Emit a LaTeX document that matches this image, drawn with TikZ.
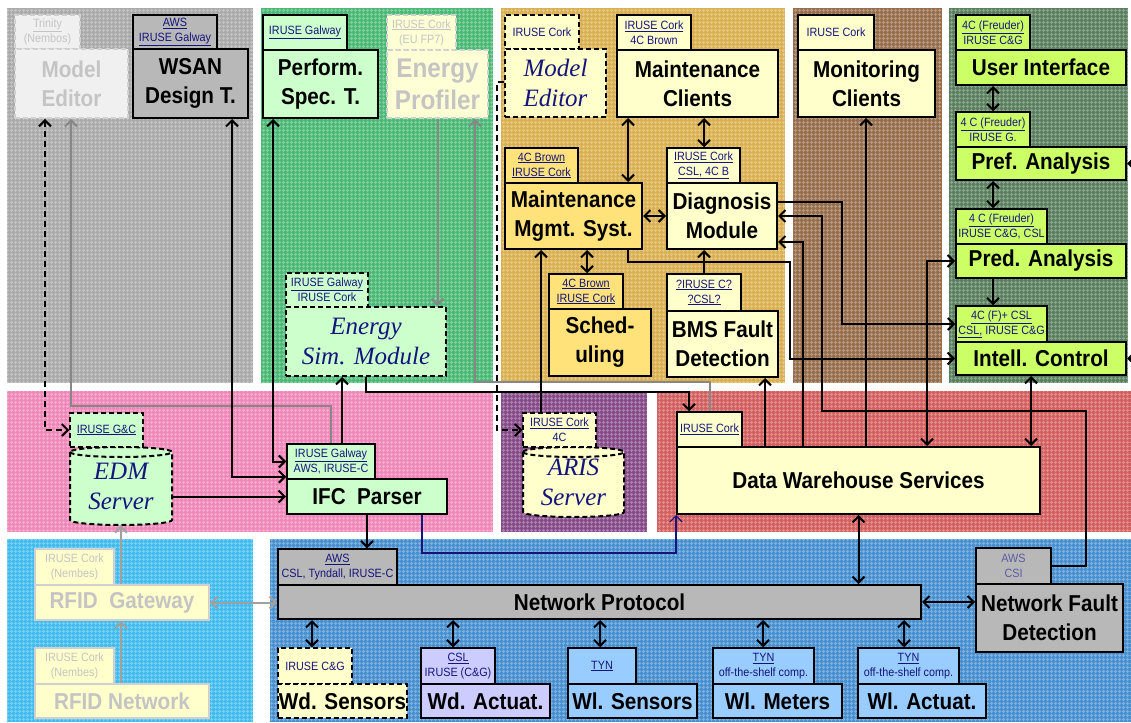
\documentclass[tikz,border=0pt]{standalone}
\usepackage{fontspec}
\setmainfont{Liberation Sans}
\newfontfamily\narrowsans[FakeStretch=0.9]{Liberation Sans}
\newfontfamily\romanit{Liberation Serif}
\usetikzlibrary{arrows.meta,patterns.meta}

\newcommand{\mainfnt}{\narrowsans\bfseries\fontsize{23}{29}\selectfont}
\newcommand{\bigfnt}{\narrowsans\bfseries\fontsize{27}{32}\selectfont}
\newcommand{\tabfnt}{\narrowsans\fontsize{12}{15}\selectfont}
\newcommand{\serfnt}{\romanit\itshape\fontsize{25}{30}\selectfont}

\definecolor{navy}{RGB}{20,20,125}
\definecolor{ltgreen}{RGB}{204,255,204}
\definecolor{ltyellow}{RGB}{255,255,204}
\definecolor{gold}{RGB}{255,226,122}
\definecolor{boxgrey}{RGB}{184,184,184}
\definecolor{ygreen}{RGB}{204,255,102}
\definecolor{lavender}{RGB}{204,204,255}
\definecolor{ltblue}{RGB}{153,204,255}
\definecolor{fadefill}{RGB}{240,240,240}
\definecolor{fadeyellow}{RGB}{255,255,214}
\definecolor{fadeline}{RGB}{208,208,208}
\definecolor{fadetext}{RGB}{196,196,196}
\definecolor{linkgrey}{RGB}{135,135,135}
\definecolor{fadelink}{RGB}{160,160,160}
\definecolor{bgGrey}{RGB}{170,170,170}
\definecolor{bgGreen}{RGB}{75,185,118}
\definecolor{bgGold}{RGB}{218,175,80}
\definecolor{bgBrown}{RGB}{150,110,75}
\definecolor{bgDkGreen}{RGB}{90,128,94}
\definecolor{bgPink}{RGB}{240,135,185}
\definecolor{bgPurple}{RGB}{135,75,138}
\definecolor{bgRed}{RGB}{212,95,95}
\definecolor{bgCyan}{RGB}{65,188,238}
\definecolor{bgBlue}{RGB}{72,144,208}

\tikzset{
  sz/.style 2 args={minimum width=#1pt, minimum height=#2pt},
  box/.style={draw, line width=2pt, inner sep=0pt, align=center, font=\mainfnt},
  tab/.style={draw, line width=1.5pt, inner sep=0pt, align=center, font=\tabfnt, text=navy},
  dashbox/.style={dash pattern=on 5pt off 3pt},
  faded/.style={draw=fadeline, text=fadetext},
  ital/.style={font=\serfnt, text=navy},
  drum/.style={inner sep=0pt, align=center, font=\serfnt, text=navy},
  cyl/.style={line width=2pt, dash pattern=on 5pt off 3pt},
  link/.style={line width=2pt},
  glink/.style={line width=2pt, draw=linkgrey},
  flink/.style={line width=2pt, draw=fadelink},
  dlink/.style={line width=2pt, dash pattern=on 6pt off 4pt},
  nlink/.style={line width=1.2pt, draw=navy},
  weave/.style={pattern={Hatch[angle=0, distance=4pt, line width=1pt]}, pattern color=white, fill opacity=0.3}
}

\begin{document}
\begin{tikzpicture}[x=1pt, y=-1pt, >={Straight Barb[length=6pt,width=12pt]}]
  \useasboundingbox (0,0) rectangle (1131,722);
  \fill[white] (0,0) rectangle (1131,722);

  % coloured areas
  \foreach \xa/\ya/\xb/\yb/\tint in {7/8/253/383/bgGrey, 261/8/493/383/bgGreen,
      501/8/785/383/bgGold, 793/8/942/383/bgBrown, 949/8/1128/383/bgDkGreen,
      7/391/493/532/bgPink, 501/391/647/532/bgPurple, 657/391/1131/532/bgRed,
      7/539/253/722/bgCyan, 270/539/1131/722/bgBlue}
  {
    \fill[\tint] (\xa,\ya) rectangle (\xb,\yb);
    \fill[weave] (\xa,\ya) rectangle (\xb,\yb);
  }

  % design tools
  \node[tab, faded, dashbox, fill=fadefill, sz={65}{34}] (meT) at (47.5,32) {\underline{Trinity}\\(Nembos)};
  \node[box, faded, dashbox, fill=fadefill, sz={113}{69}] (meF) at (71.5,83.5) {Model\\Editor};
  \node[tab, fill=boxgrey, sz={84}{34}] (wsanT) at (175,32) {\underline{AWS}\\\underline{IRUSE Galway}};
  \node[box, fill=boxgrey, sz={115}{69}] (wsan) at (190.5,83.5) {WSAN\\Design T.};
  \node[tab, fill=ltgreen, sz={84}{35}] (perfT) at (305,32.5) {\underline{IRUSE Galway}};
  \node[box, fill=ltgreen, sz={115}{68}] (perf) at (320.5,84) {Perform.\\Spec. T.};
  \node[tab, faded, dashbox, fill=fadeyellow, sz={69}{35}] (epT) at (421.5,32.5) {\underline{IRUSE Cork}\\(EU FP7)};
  \node[box, faded, dashbox, fill=fadeyellow, sz={101}{68}, font=\bigfnt] (ep) at (437.5,84) {Energy\\Profiler};
  \node[tab, dashbox, fill=ltgreen, sz={82}{34}] (esT) at (327,290) {\underline{IRUSE Galway}\\IRUSE Cork};
  \node[box, dashbox, ital, fill=ltgreen, sz={160}{69}] (es) at (366,341.5) {Energy\\Sim. Module};

  % maintenance
  \node[tab, dashbox, fill=ltyellow, sz={74}{34}] (me2T) at (542,32) {IRUSE Cork};
  \node[box, dashbox, ital, fill=ltyellow, sz={101}{68}] (me2) at (555.5,83) {Model\\Editor};
  \node[tab, fill=ltyellow, sz={74}{35}] (mcT) at (654,32.5) {\underline{IRUSE Cork}\\4C Brown};
  \node[box, fill=ltyellow, sz={161}{67}] (mc) at (697.5,83.5) {Maintenance\\Clients};
  \node[tab, fill=gold, sz={73}{35}] (mmsT) at (541.5,165.5) {\underline{4C Brown}\\\underline{IRUSE Cork}};
  \node[box, fill=gold, sz={137}{66}] (mms) at (573.5,216) {Maintenance\\Mgmt. Syst.};
  \node[tab, fill=ltyellow, sz={73}{35}] (dgT) at (703.5,165.5) {\underline{IRUSE Cork}\\\underline{CSL, 4C B}};
  \node[box, fill=ltyellow, sz={110}{66}] (dg) at (722,216) {Diagnosis\\Module};
  \node[tab, fill=gold, sz={74}{35}] (schT) at (586,291.5) {\underline{4C Brown}\\\underline{IRUSE Cork}};
  \node[box, fill=gold, sz={102}{67}] (sch) at (600,342.5) {Sched-\\uling};
  \node[tab, fill=ltyellow, sz={74}{37}] (bmsT) at (704,292.5) {\underline{?IRUSE C?}\\\underline{?CSL?}};
  \node[box, fill=ltyellow, sz={111}{66}] (bms) at (722.5,344) {BMS Fault\\Detection};
  \node[tab, fill=ltyellow, sz={76}{35}] (monT) at (836,32.5) {IRUSE Cork};
  \node[box, fill=ltyellow, sz={137}{67}] (mon) at (866.5,83.5) {Monitoring\\Clients};

  % control chain
  \node[tab, fill=ygreen, sz={74}{35}] (uiT) at (993,32.5) {\underline{4C (Freuder)}\\IRUSE C\&G};
  \node[box, fill=ygreen, sz={170}{35}] (ui) at (1041,67.5) {User Interface};
  \node[tab, fill=ygreen, sz={74}{35}] (prefT) at (993,129.5) {\underline{4 C (Freuder)}\\IRUSE G.};
  \node[box, fill=ygreen, sz={170}{33}] (pref) at (1041,163.5) {Pref. Analysis};
  \node[tab, fill=ygreen, sz={91}{35}] (predT) at (1001.5,226.5) {\underline{4 C (Freuder)}\\IRUSE C\&G, CSL};
  \node[box, fill=ygreen, sz={170}{34}] (pred) at (1041,261) {Pred. Analysis};
  \node[tab, fill=ygreen, sz={91}{36}] (icT) at (1001.5,324) {\underline{4C (F)+ CSL}\\\underline{CSL,} IRUSE C\&G};
  \node[box, fill=ygreen, sz={170}{33}] (ic) at (1041,358.5) {Intell. Control};

  % servers
  \filldraw[cyl, fill=ltgreen] (70,452) -- (70,520) arc[start angle=180, end angle=360, x radius=51pt, y radius=5pt]
    -- (172,452) arc[start angle=0, end angle=180, x radius=51pt, y radius=5pt] -- cycle;
  \draw[cyl] (70,452) arc[start angle=180, end angle=360, x radius=51pt, y radius=5pt];
  \node[drum, sz={102}{78}] (edm) at (121,486) {EDM\\Server};
  \node[tab, dashbox, fill=ltgreen, sz={73}{34}] (edmT) at (106.5,430) {\underline{IRUSE G\&C}};
  \node[tab, fill=ltgreen, sz={88}{35}] (ifcT) at (331,461.5) {\underline{IRUSE Galway}\\AWS, IRUSE-C};
  \node[box, fill=ltgreen, sz={160}{35}] (ifc) at (367,496.5) {IFC~~Parser};
  \filldraw[cyl, fill=ltyellow] (523,452) -- (523,512) arc[start angle=180, end angle=360, x radius=50.5pt, y radius=5pt]
    -- (624,452) arc[start angle=0, end angle=180, x radius=50.5pt, y radius=5pt] -- cycle;
  \draw[cyl] (523,452) arc[start angle=180, end angle=360, x radius=50.5pt, y radius=5pt];
  \node[drum, sz={101}{70}] (aris) at (573.5,482) {ARIS\\Server};
  \node[tab, dashbox, fill=ltyellow, sz={73}{34}] (arisT) at (559.5,430) {\underline{IRUSE Cork}\\4C};
  \node[tab, fill=ltyellow, sz={65}{35}] (dwsT) at (709.5,429.5) {\underline{IRUSE Cork}};
  \node[box, fill=ltyellow, sz={363}{67}] (dws) at (858.5,480.5) {Data Warehouse Services};

  % network
  \node[tab, faded, fill=ltyellow, sz={79}{36}] (rgT) at (74.5,567) {IRUSE Cork\\(Nembes)};
  \node[box, faded, fill=ltyellow, sz={174}{35}] (rg) at (122,602.5) {RFID~~Gateway};
  \node[tab, faded, fill=ltyellow, sz={79}{36}] (rnT) at (74.5,666) {IRUSE Cork\\(Nembes)};
  \node[box, faded, fill=ltyellow, sz={174}{34}] (rn) at (122,701) {RFID Network};
  \node[tab, fill=boxgrey, sz={119}{36}] (npT) at (337.5,567) {\underline{AWS}\\CSL, Tyndall, IRUSE-C};
  \node[box, fill=boxgrey, sz={643}{34}] (np) at (599.5,602) {Network Protocol};
  \node[tab, fill=boxgrey, sz={75}{36}, text=navy!70] (nfdT) at (1013.5,566) {AWS\\CSI};
  \node[box, fill=boxgrey, sz={147}{68}] (nfd) at (1049.5,618) {Network Fault\\Detection};
  \node[tab, dashbox, fill=ltyellow, sz={74}{36}] (wdsT) at (315,666) {IRUSE C\&G};
  \node[box, dashbox, fill=ltyellow, sz={129}{34}] (wds) at (342.5,701) {Wd. Sensors};
  \node[tab, fill=lavender, sz={74}{36}] (wdaT) at (458,666) {\underline{CSL}\\IRUSE (C\&G)};
  \node[box, fill=lavender, sz={129}{34}] (wda) at (485.5,701) {Wd. Actuat.};
  \node[tab, fill=ltblue, sz={68}{36}] (wlsT) at (602,666) {\underline{TYN}};
  \node[box, fill=ltblue, sz={129}{34}] (wls) at (632.5,701) {Wl. Sensors};
  \node[tab, fill=ltblue, sz={101}{36}] (wlmT) at (763.5,666) {\underline{TYN}\\off-the-shelf comp.};
  \node[box, fill=ltblue, sz={129}{34}] (wlm) at (777.5,701) {Wl. Meters};
  \node[tab, fill=ltblue, sz={101}{36}] (wlaT) at (908.5,666) {\underline{TYN}\\off-the-shelf comp.};
  \node[box, fill=ltblue, sz={128}{34}] (wla) at (922,701) {Wl. Actuat.};

  % links of the design tools
  \draw[dlink,<->] (meF.south -| 45,0) |- (edmT.west);
  \draw[glink,->] (ifcT.north) |- (71,406) -- (meF.south -| 71,0);
  \draw[link,<->] (wsan.south -| 232,0) |- ([yshift=3pt]ifcT.south west);
  \draw[link,<->] (perf.south -| 273,0) |- (ifcT.west);
  \draw[link,->] (edm.east |- ifc.west) -- (ifc.west);
  \draw[link,->] (ifcT.north -| 342,0) -- (es.south -| 342,0);
  \draw[link,->] (es.south) |- (689,392) -- (dwsT.north -| 689,0);
  \draw[glink,->] (ep.south) -- (es.north -| ep.south);
  \draw[glink,->] (dwsT.north) |- (475,382) -- (ep.south -| 475,0);

  % links of the maintenance part
  \draw[dlink,->] (me2.west |- 0,82) -| (497,430) -- (arisT.west);
  \draw[link,->] (arisT.north -| 541,0) -- (mms.south -| 541,0);
  \draw[link,<->] (mc.south -| 628,0) -- (mms.north -| 628,0);
  \draw[link,<->] (mc.south -| 704,0) -- (dgT.north -| 704,0);
  \draw[link,<->] (mms.east) -- (dg.west);
  \draw[link,<->] (mms.south -| 587,0) -- (schT.north -| 587,0);
  \draw[link,->] (bmsT.north -| 704,0) -- (dg.south -| 704,0);
  \draw[link,->] (mms.south -| 628,0) |- (790,262) |- (ic.west);
  \draw[link,->] (dg.east |- 0,202) -- (842,202) |- (icT.west);
  \draw[link,->] (nfdT.east) -| (1086,411) -| (822,216) -- (dg.east);
  \draw[link,->] (dws.north -| 803,0) |- ([yshift=-26pt]dg.east);
  \draw[link,->] (dws.north -| 765,0) -- (bms.south -| 765,0);
  \draw[link,->] (dws.north -| 866,0) -- (mon.south -| 866,0);
  \draw[link,<->] (dws.north -| 927,0) |- (pred.west);
  \draw[link,<->] (ic.south -| 1031,0) -- (dws.north -| 1031,0);

  % control chain
  \draw[link,<->] (ui.south -| 993,0) -- (prefT.north -| 993,0);
  \draw[link,<->] (pref.south -| 993,0) -- (predT.north -| 993,0);
  \draw[link,->] (pred.south -| 993,0) -- (icT.north -| 993,0);
  \coordinate (edgeA) at (1131,163.5);
  \coordinate (edgeB) at (1131,358.5);
  \draw[link,->] (edgeA) -- (pref.east);
  \draw[link,->] (edgeB) -- (ic.east);

  % network links
  \draw[link,<->] (dws.south) -- (np.north -| dws.south);
  \draw[link,<->] (np.east) -- (nfd.west |- np.east);
  \draw[link,->] (ifc.south) -- (npT.north -| ifc.south);
  \draw[nlink,->] (ifc.south -| 422,0) -- (422,553) -| (dws.south west);
  \foreach \n/\xx in {wdsT/312, wdaT/453, wlsT/600, wlmT/763, wlaT/904}
    \draw[link,<->] (np.south -| \xx,0) -- (\n.north -| \xx,0);
  \draw[flink,<->] (rg.east) -- (np.west |- rg.east);
  \draw[flink,->] (rn.north -| 121,0) -- (rg.south -| 121,0);
  \draw[flink,->] (rg.north -| 121,0) -- (edm.south);
\end{tikzpicture}
\end{document}
